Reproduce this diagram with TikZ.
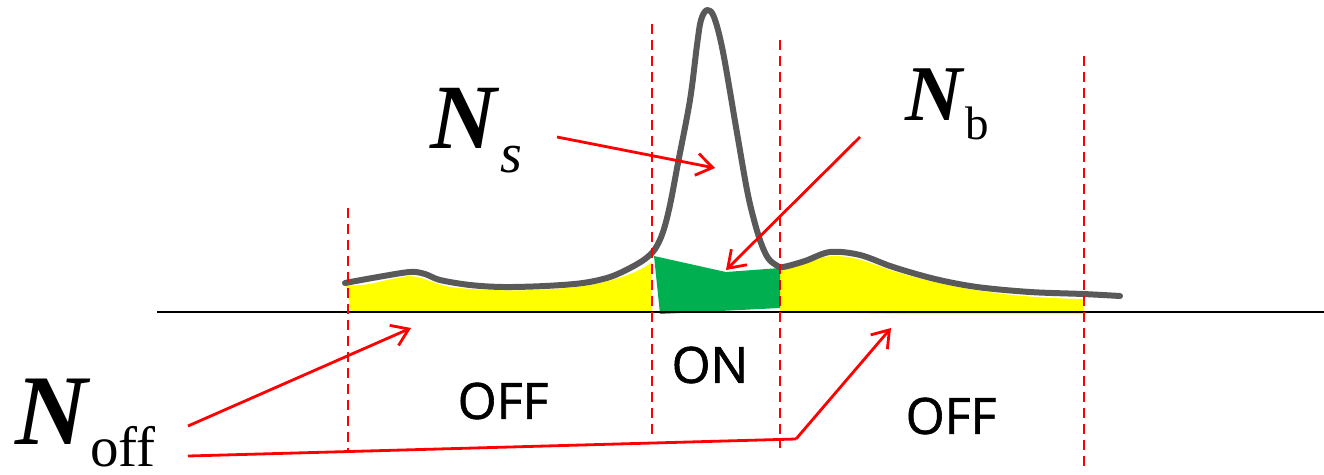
\documentclass[tikz,border=0pt]{standalone}
\usepackage{fontspec}
\setmainfont{Liberation Serif}
\newfontfamily\regionfont[FakeBold=1.2]{Open Sans}
\usetikzlibrary{arrows.meta}
\definecolor{curvegray}{RGB}{89,89,89}
\definecolor{ongreen}{RGB}{0,176,80}
\definecolor{offyellow}{RGB}{255,255,0}
\tikzset{
  curveline/.style={draw=curvegray, line width=6pt, line cap=round, line join=round},
  divider/.style={draw=red, line width=2.4pt, dash pattern=on 10pt off 6pt},
  pointer/.style={draw=red, line width=2.8pt, -{Straight Barb[length=16pt,width=22pt,line width=2.8pt]}},
  pointerline/.style={draw=red, line width=2.8pt},
  region/.style={inner sep=0pt, font=\regionfont\fontsize{50}{50}\selectfont},
  lbl/.style={inner sep=0pt, anchor=base west}
}
\begin{document}
\begin{tikzpicture}[x=1pt,y=-1pt]
\useasboundingbox (0,0) rectangle (1324,474);
% yellow OFF areas
\fill[offyellow] (346,285) to[out=-5,in=185] (410,276)
  .. controls (425,277) and (430,283) .. (450,287)
  .. controls (490,292) and (560,292) .. (600,283)
  .. controls (630,276) and (645,268) .. (652,262)
  -- (652,312) -- (351,312) -- cycle;
\fill[offyellow] (780,271) .. controls (800,266) and (815,256) .. (835,256)
  .. controls (860,256) and (880,268) .. (900,273)
  .. controls (950,288) and (1010,298) .. (1084,299)
  -- (1084,314) -- (900,314) -- (780,312) -- cycle;
% green ON area
\fill[ongreen] (654,256) -- (726,272) -- (780,268) -- (780,308) -- (660,314) -- cycle;
% baseline
\draw[line width=2pt] (157,312) -- (1324,312);
% spectrum curve
\draw[curveline] plot[smooth, tension=0.55] coordinates {
 (345,283) (378,277) (410,272) (425,274) (440,280) (470,285) (503,287)
 (545,286) (583,283) (610,277) (630,268) (645,259) (655,249) (663,232)
 (670,205) (678,163) (690,100) (697,45) (701,20) (707,10) (714,17)
 (723,52) (737,133) (747,190) (754,220) (761,243) (768,258) (776,265)
 (783,267) (805,261) (830,252) (860,255) (893,267) (935,279) (977,287)
 (1030,292) (1083,294) (1120,296)};
% dashed dividers
\draw[divider] (348,208) -- (348,452);
\draw[divider] (652,24) -- (652,440);
\draw[divider] (780,40) -- (780,448);
\draw[divider] (1084,56) -- (1084,470);
% labels
\node[lbl] (Ns) at (430,148) {{\fontsize{92}{92}\selectfont\bfseries\itshape N}\kern4pt\raisebox{-24pt}{\fontsize{56}{56}\selectfont\itshape s}};
\node[lbl] (Nb) at (905,120) {{\fontsize{79}{79}\selectfont\bfseries\itshape N}\kern3pt\raisebox{-19pt}{\fontsize{47}{47}\selectfont b}};
\node[lbl] (Noff) at (15,444) {{\fontsize{100}{100}\selectfont\bfseries\itshape N}\kern3pt\raisebox{-22pt}{\fontsize{57}{57}\selectfont off}};
\node[region] (offL) at (503,401) {OFF};
\node[region] (on) at (710,365) {ON};
\node[region] (offR) at (951,416) {OFF};
% arrow end points
\coordinate (nsA) at (557,137);
\coordinate (nsB) at (715,168);
\coordinate (nbA) at (860,137);
\coordinate (nbB) at (726,270);
\coordinate (noA) at (188,426);
\coordinate (noB) at (411,328);
\coordinate (noC) at (188,456);
\coordinate (noK) at (796,439);
\coordinate (noD) at (891,328);
% arrows
\draw[pointer] (nsA) -- (nsB);
\draw[pointer] (nbA) -- (nbB);
\draw[pointer] (noA) -- (noB);
\draw[pointerline] (noC) -- (noK);
\draw[pointer] (noK) -- (noD);
\end{tikzpicture}
\end{document}
